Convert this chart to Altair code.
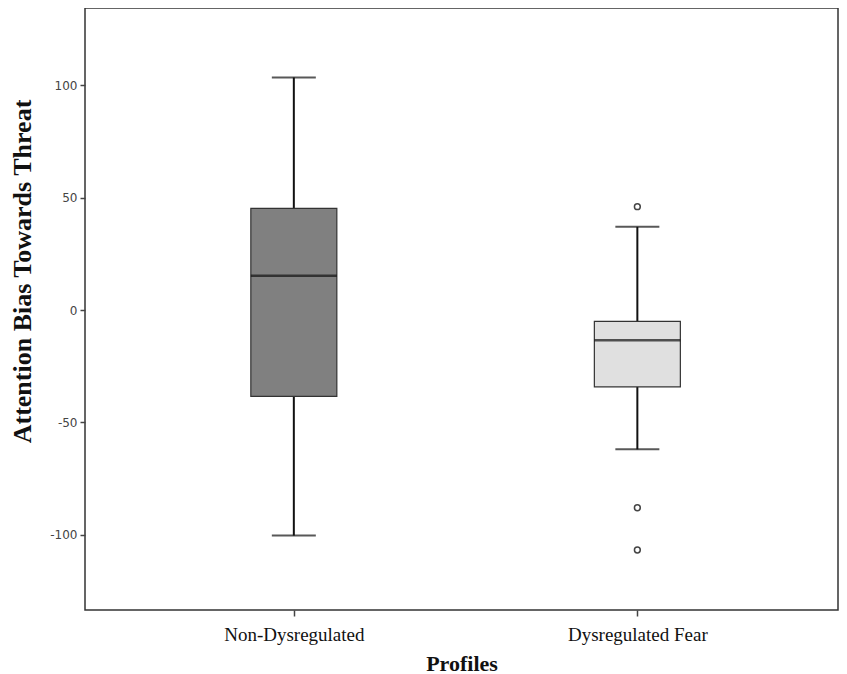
import altair as alt
import pandas as pd

categories = ["Non-Dysregulated", "Dysregulated Fear"]
lower_whisker = [-100.4, -62.0]
q1 = [-38.4, -34.2]
median = [15.3, -13.5]
q3 = [45.2, -5.1]
upper_whisker = [103.5, 37.0]
box_colors = ["#808080", "#e0e0e0"]

outlier_cat = ["Dysregulated Fear", "Dysregulated Fear", "Dysregulated Fear"]
outlier_val = [46.0, -88.0, -106.8]

y_ticks = [-100, -50, 0, 50, 100]

box_df = pd.DataFrame({
    "profile": categories,
    "lo": lower_whisker,
    "q1": q1,
    "med": median,
    "q3": q3,
    "hi": upper_whisker,
    "color": box_colors,
})
out_df = pd.DataFrame({"profile": outlier_cat, "value": outlier_val})

x_enc = alt.X(
    "profile:N",
    sort=categories,
    scale=alt.Scale(type="point", padding=0.596, align=0.51),
    axis=alt.Axis(
        title="Profiles",
        titleFont="Liberation Serif",
        titleFontSize=22,
        titleFontWeight="bold",
        titleColor="#111",
        titlePadding=9,
        labelFont="Liberation Serif",
        labelFontSize=19,
        labelColor="#111",
        labelAngle=0,
        labelPadding=9,
        tickSize=6,
        tickColor="#444",
        tickWidth=1.5,
        domain=False,
        grid=False,
    ),
)

y_scale = alt.Scale(domain=[-133.5, 134.4], nice=False, zero=False)
y_axis = alt.Axis(
    title="Attention Bias Towards Threat",
    titleFont="Liberation Serif",
    titleFontSize=26,
    titleFontWeight="bold",
    titleColor="#111",
    titlePadding=14,
    titleY=263,
    labelFont="DejaVu Sans",
    labelFontSize=12,
    labelColor="#444",
    labelPadding=3,
    values=y_ticks,
    labelExpr="datum.value < 0 ? '-' + abs(datum.value) : '' + datum.value",
    tickSize=5,
    tickColor="#444",
    tickWidth=1.5,
    domain=False,
    grid=False,
)

base = alt.Chart(box_df)

whisker_up = base.mark_rule(color="#111", strokeWidth=2).encode(
    x=x_enc, y=alt.Y("q3:Q", scale=y_scale, axis=y_axis), y2="hi:Q"
)
whisker_down = base.mark_rule(color="#111", strokeWidth=2).encode(
    x=x_enc, y=alt.Y("lo:Q", scale=y_scale, axis=y_axis), y2="q1:Q"
)
boxes = base.mark_bar(size=86, stroke="#333", strokeWidth=1.2).encode(
    x=x_enc,
    y=alt.Y("q1:Q", scale=y_scale, axis=y_axis),
    y2="q3:Q",
    color=alt.Color("color:N", scale=None),
)
medians = base.mark_tick(size=86, thickness=2.5, color="#111").encode(
    x=x_enc, y=alt.Y("med:Q", scale=y_scale, axis=y_axis)
)
cap_hi = base.mark_tick(size=44, thickness=2, color="#111").encode(
    x=x_enc, y=alt.Y("hi:Q", scale=y_scale, axis=y_axis)
)
cap_lo = base.mark_tick(size=44, thickness=2, color="#111").encode(
    x=x_enc, y=alt.Y("lo:Q", scale=y_scale, axis=y_axis)
)
outliers = alt.Chart(out_df).mark_point(
    shape="circle", filled=False, size=34, stroke="#444", strokeWidth=1.5, opacity=1
).encode(x=x_enc, y=alt.Y("value:Q", scale=y_scale, axis=y_axis))

chart = alt.layer(
    whisker_up, whisker_down, boxes, medians, cap_hi, cap_lo, outliers
).properties(
    width=831,
    height=666,
    background="white",
    padding={"left": 1, "top": 0, "right": 1, "bottom": 0},
    autosize=alt.AutoSizeParams(type="fit", contains="padding"),
).configure_view(
    stroke="#333", strokeWidth=1.5, fill="white"
)

chart.save("out.html", embed_options={"renderer": "svg", "actions": False})
